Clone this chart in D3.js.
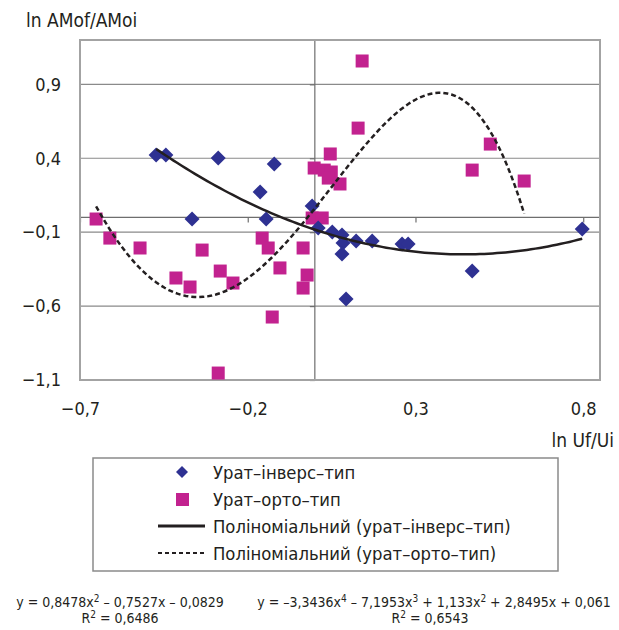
<!DOCTYPE html>
<html>
<head>
<meta charset="utf-8">
<script src="https://cdn.jsdelivr.net/npm/d3@7"></script>
<style>
  body { margin: 0; background: #fff; }
  text { font-family: "Liberation Sans Narrow", "DejaVu Sans Condensed", "Roboto Condensed", sans-serif; fill: #231f20; }
</style>
</head>
<body>
<script>
// urat-invers points (blue diamonds)
var inversX = [-0.473, -0.444, -0.288, -0.121, -0.163, -0.366, -0.145, -0.008, 0.010, 0.052,
               0.081, 0.084, 0.123, 0.171, 0.081, 0.093, 0.260, 0.278, 0.469, 0.797];
var inversY = [0.422, 0.422, 0.401, 0.361, 0.172, -0.011, -0.011, 0.077, -0.072, -0.099,
               -0.119, -0.173, -0.160, -0.160, -0.248, -0.552, -0.180, -0.180, -0.363, -0.079];

// urat-orto points (magenta squares)
var ortoX = [-0.652, -0.611, -0.521, -0.336, -0.157, -0.139, -0.282, -0.414, -0.372, -0.244,
             -0.104, -0.035, -0.023, -0.035, -0.127, -0.288, -0.008, 0.022, 0.141, 0.129,
             0.046, -0.002, 0.028, 0.049, 0.040, 0.075, 0.469, 0.523, 0.624];
var ortoY = [-0.011, -0.140, -0.207, -0.221, -0.140, -0.207, -0.363, -0.410, -0.471, -0.444,
             -0.342, -0.207, -0.390, -0.478, -0.674, -1.053, -0.004, -0.004, 1.058, 0.604,
             0.429, 0.334, 0.320, 0.307, 0.266, 0.226, 0.320, 0.496, 0.246];

// trendline coefficients, highest power first (as printed under the chart)
var inversCoef = [0.8478, -0.7527, -0.0829];
var ortoCoef = [-3.3436, -7.1953, 1.133, 2.8495, 0.061];

var xTicks = [-0.7, -0.2, 0.3, 0.8];
var yTicks = [-1.1, -0.6, -0.1, 0.4, 0.9];

var legendLabels = ["Урат–інверс–тип", "Урат–орто–тип",
                    "Поліноміальний (урат–інверс–тип)", "Поліноміальний (урат–орто–тип)"];

var width = 619, height = 630;
var blue = "#2e3192", pink = "#c2228f";

var svg = d3.select("body").append("svg")
    .attr("width", width)
    .attr("height", height);

var x = d3.scaleLinear().domain([-0.7, 0.85]).range([80, 600]);
var y = d3.scaleLinear().domain([-1.1, 1.2]).range([380, 40]);

var fmt = function(d) { return d3.format(".1f")(d).replace("-", "–").replace(".", ","); };

// gridlines
svg.selectAll(".grid")
  .data(yTicks.slice(1))
  .enter().append("line")
  .attr("x1", 80).attr("x2", 600)
  .attr("y1", function(d) { return y(d); })
  .attr("y2", function(d) { return y(d); })
  .attr("stroke", "#8a8a8a")
  .attr("stroke-width", 1.2);

// axes crossing at zero
var xAxis = svg.append("g")
    .attr("transform", "translate(0," + y(0) + ")")
    .call(d3.axisBottom(x).tickValues(xTicks).tickSize(5).tickFormat(""));
var yAxis = svg.append("g")
    .attr("transform", "translate(" + x(0) + ",0)")
    .call(d3.axisLeft(y).tickValues(yTicks).tickSize(5).tickFormat(""));
[xAxis, yAxis].forEach(function(a) {
  a.selectAll("path, line").attr("stroke", "#6e6e6e").attr("stroke-width", 1.2);
  a.select(".domain").attr("d", a === xAxis ? "M80,0H600" : "M0,40V380");
});

// plot frame
svg.append("rect")
    .attr("x", 80).attr("y", 40)
    .attr("width", 520).attr("height", 340)
    .attr("fill", "none")
    .attr("stroke", "#a3a3a3")
    .attr("stroke-width", 2);

// tick labels
var labX = svg.append("g").attr("transform", "translate(0,399)")
    .call(d3.axisBottom(x).tickValues(xTicks).tickSize(0).tickFormat(fmt));
var labY = svg.append("g").attr("transform", "translate(64,0)")
    .call(d3.axisLeft(y).tickValues(yTicks).tickSize(0).tickFormat(fmt));
[labX, labY].forEach(function(a) {
  a.select(".domain").remove();
  a.selectAll("text").attr("font-size", 18).attr("fill", "#231f20")
    .attr("font-family", null);
});

// trendlines
function poly(c) {
  return function(t) { return c.reduce(function(s, k) { return s * t + k; }, 0); };
}
function curve(xs, coef) {
  var f = poly(coef), ext = d3.extent(xs), pts = [];
  d3.range(0, 101).forEach(function(i) {
    var t = ext[0] + (ext[1] - ext[0]) * i / 100;
    pts.push([t, f(t)]);
  });
  return pts;
}
var line = d3.line().x(function(d) { return x(d[0]); }).y(function(d) { return y(d[1]); });

// squares
svg.selectAll(".sq")
  .data(d3.zip(ortoX, ortoY))
  .enter().append("rect")
  .attr("x", function(d) { return x(d[0]) - 6.5; })
  .attr("y", function(d) { return y(d[1]) - 6.5; })
  .attr("width", 13).attr("height", 13)
  .attr("fill", pink);

// diamonds
var diamond = "M0,-7.5L7.5,0L0,7.5L-7.5,0Z";
svg.selectAll(".dm")
  .data(d3.zip(inversX, inversY))
  .enter().append("path")
  .attr("d", diamond)
  .attr("transform", function(d) { return "translate(" + x(d[0]) + "," + y(d[1]) + ")"; })
  .attr("fill", blue);

svg.append("path")
    .attr("d", line(curve(ortoX, ortoCoef)))
    .attr("fill", "none").attr("stroke", "#231f20")
    .attr("stroke-width", 2.5).attr("stroke-dasharray", "5,3");
svg.append("path")
    .attr("d", line(curve(inversX, inversCoef)))
    .attr("fill", "none").attr("stroke", "#231f20")
    .attr("stroke-width", 2.5);

// axis titles
svg.append("text").attr("x", 26).attr("y", 27).attr("font-size", 19).text("ln AMof/AMoi");
svg.append("text").attr("x", 614).attr("y", 447).attr("font-size", 19)
    .attr("text-anchor", "end").text("ln Uf/Ui");

// legend
svg.append("rect")
    .attr("x", 93).attr("y", 458).attr("width", 465).attr("height", 113)
    .attr("fill", "#fff").attr("stroke", "#8a8a8a").attr("stroke-width", 1.5);
var leg = svg.selectAll(".leg")
  .data(legendLabels)
  .enter().append("g")
  .attr("transform", function(d, i) { return "translate(0," + (472 + i * 27) + ")"; });
leg.append("text").attr("x", 213).attr("y", 6.5).attr("font-size", 18.3)
    .text(function(d) { return d; });
leg.filter(function(d, i) { return i === 0; }).append("path")
    .attr("d", "M0,-6L6,0L0,6L-6,0Z").attr("transform", "translate(182,0)").attr("fill", blue);
leg.filter(function(d, i) { return i === 1; }).append("rect")
    .attr("x", 176).attr("y", -6).attr("width", 13).attr("height", 13).attr("fill", pink);
leg.filter(function(d, i) { return i >= 2; }).append("line")
    .attr("x1", 158).attr("x2", 205).attr("y1", 0).attr("y2", 0)
    .attr("stroke", "#231f20").attr("stroke-width", function(d, i) { return i === 0 ? 3 : 2; })
    .attr("stroke-dasharray", function(d, i) { return i === 0 ? null : "4,3"; });

// equations
var eq1 = svg.append("text").attr("x", 120).attr("y", 607).attr("font-size", 14).attr("text-anchor", "middle");
eq1.append("tspan").text("y = 0,8478x");
eq1.append("tspan").attr("dy", -5).attr("font-size", 10).text("2");
eq1.append("tspan").attr("dy", 5).text(" – 0,7527x – 0,0829");
var r1 = svg.append("text").attr("x", 120).attr("y", 623).attr("font-size", 14).attr("text-anchor", "middle");
r1.append("tspan").text("R");
r1.append("tspan").attr("dy", -5).attr("font-size", 10).text("2");
r1.append("tspan").attr("dy", 5).text(" = 0,6486");

var eq2 = svg.append("text").attr("x", 434).attr("y", 607).attr("font-size", 14).attr("text-anchor", "middle");
eq2.append("tspan").text("y = –3,3436x");
eq2.append("tspan").attr("dy", -5).attr("font-size", 10).text("4");
eq2.append("tspan").attr("dy", 5).text(" – 7,1953x");
eq2.append("tspan").attr("dy", -5).attr("font-size", 10).text("3");
eq2.append("tspan").attr("dy", 5).text(" + 1,133x");
eq2.append("tspan").attr("dy", -5).attr("font-size", 10).text("2");
eq2.append("tspan").attr("dy", 5).text(" + 2,8495x + 0,061");
var r2 = svg.append("text").attr("x", 430).attr("y", 623).attr("font-size", 14).attr("text-anchor", "middle");
r2.append("tspan").text("R");
r2.append("tspan").attr("dy", -5).attr("font-size", 10).text("2");
r2.append("tspan").attr("dy", 5).text(" = 0,6543");
</script>
</body>
</html>
